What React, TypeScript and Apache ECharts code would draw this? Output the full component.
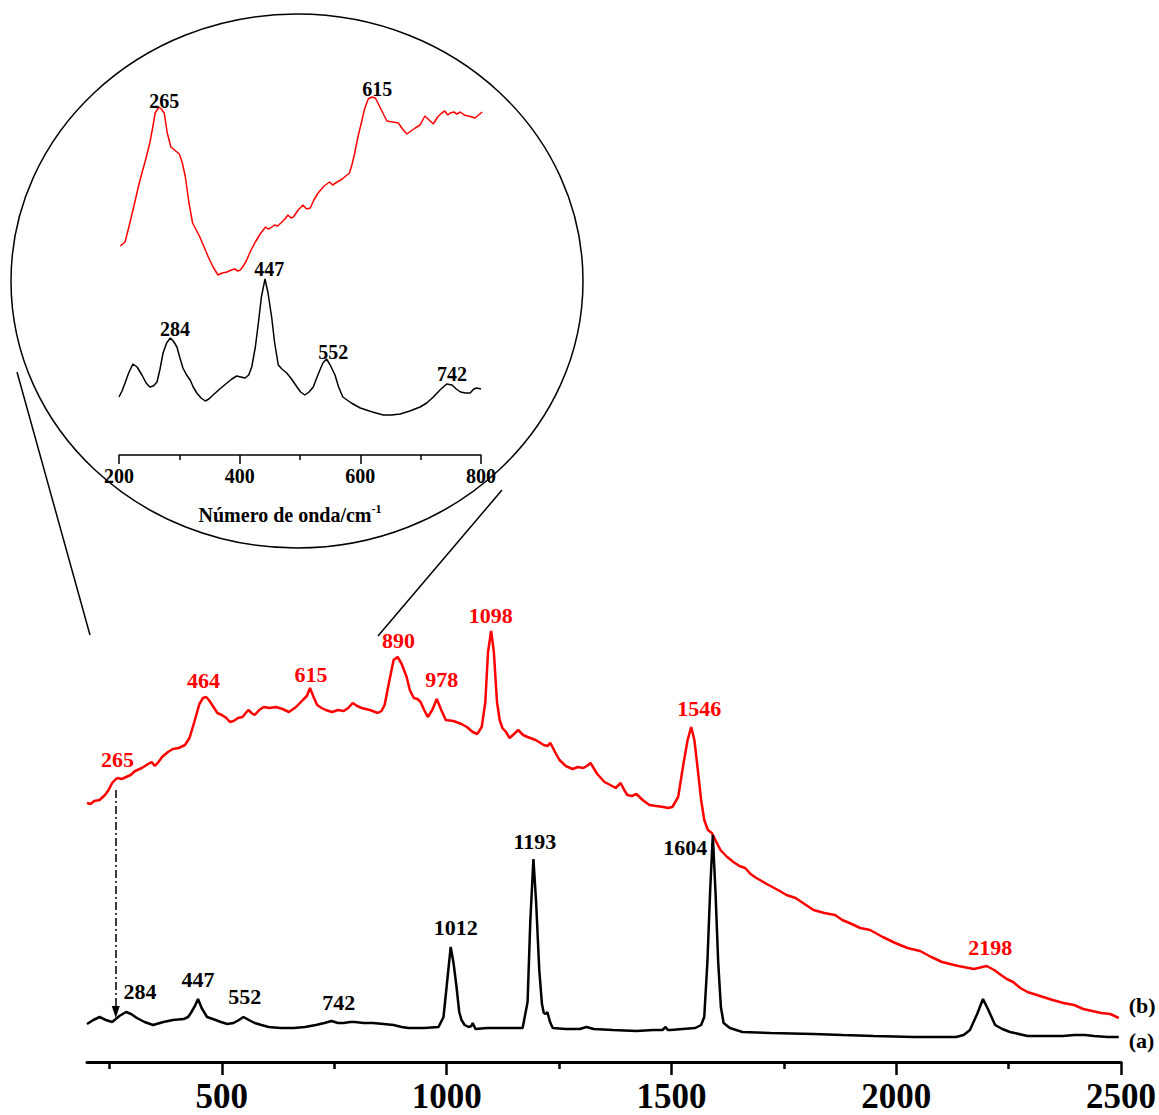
import React, { useEffect, useRef } from 'react';
import * as echarts from 'echarts';

const FONT = "'Liberation Serif', 'Times New Roman', serif";

// Main spectrum (b) - red: [wavenumber, intensity]
const redMain: [number, number][] = [
  [200, 259], [208, 258], [216, 261], [228, 262], [240, 267], [248, 272], [256, 279], [262, 282], [268, 284], [277, 283], [287, 285], [297, 287], [307, 291], [322, 294], [336, 298],
  [344, 300], [351, 296], [359, 300], [367, 305], [380, 310], [391, 313], [404, 314], [418, 317], [428, 324], [438, 339], [450, 358], [458, 364], [465, 365], [471, 362],
  [480, 356], [490, 349], [500, 347], [510, 344], [518, 340], [526, 341], [536, 344], [546, 345], [553, 349], [559, 352], [566, 349], [573, 347], [583, 352], [593, 355], [606, 354], [620, 355],
  [635, 353], [649, 350], [665, 355], [680, 362], [689, 366], [696, 374], [704, 365], [712, 357], [722, 354], [731, 352], [745, 350], [758, 352], [771, 351], [781, 354], [791, 359], [801, 356], [811, 354],
  [829, 352], [847, 349], [855, 351], [862, 357], [872, 380], [882, 402], [891, 405], [900, 398], [911, 385], [918, 372], [927, 364],
  [935, 363], [942, 360], [950, 352], [958, 345], [968, 352], [978, 363], [988, 352], [998, 342], [1015, 341], [1033, 338], [1045, 335], [1058, 330], [1068, 328],
  [1078, 335], [1086, 360], [1092, 410], [1099, 431], [1105, 410], [1112, 360], [1118, 342], [1124, 334],
  [1132, 330], [1140, 324], [1150, 328], [1159, 332], [1170, 327], [1180, 325], [1198, 322], [1216, 317], [1224, 316], [1231, 319], [1241, 310], [1251, 302], [1265, 296], [1280, 293],
  [1292, 295], [1304, 294], [1312, 296], [1320, 299], [1335, 288], [1351, 280], [1364, 277], [1376, 274], [1387, 279], [1395, 272], [1402, 267], [1412, 266], [1422, 268],
  [1436, 262], [1451, 257], [1466, 256], [1482, 255], [1492, 254], [1502, 255], [1515, 265], [1527, 299], [1536, 322], [1544, 335],
  [1551, 322], [1558, 295], [1566, 262], [1573, 242], [1581, 232], [1590, 229], [1600, 220], [1609, 212], [1624, 205], [1638, 200],
  [1651, 196], [1664, 194], [1676, 188], [1689, 184], [1712, 178], [1737, 172], [1756, 167], [1776, 164], [1796, 158], [1816, 152], [1840, 149], [1864, 147], [1880, 142], [1896, 139],
  [1920, 134], [1942, 132], [1970, 125], [1998, 119], [2025, 114], [2053, 111], [2078, 105], [2102, 100], [2138, 96], [2173, 93], [2201, 96], [2218, 92], [2233, 87],
  [2246, 83], [2260, 80], [2276, 74], [2292, 70], [2320, 66], [2348, 62], [2372, 59], [2396, 57], [2416, 53], [2436, 51], [2456, 49], [2476, 48], [2495, 44],
];

// Main spectrum (a) - black
const blackMain: [number, number][] = [
  [200, 38], [214, 42], [228, 45], [242, 42], [256, 40], [272, 46], [287, 50], [298, 48], [311, 44], [328, 40], [347, 37], [370, 40], [391, 42], [415, 43], [425, 45], [431, 49],
  [440, 56], [447, 63], [455, 54], [467, 45], [480, 43], [498, 40], [512, 38], [526, 39], [538, 42], [548, 45], [560, 42], [573, 39], [588, 37], [604, 35],
  [630, 34], [660, 34], [685, 35], [709, 37], [728, 39], [744, 41], [758, 39], [771, 39], [785, 40], [796, 40], [815, 39], [836, 39], [860, 38], [882, 37], [900, 35], [915, 34], [950, 34], [982, 35],
  [993, 45], [1001, 80], [1009, 115], [1015, 100], [1022, 75], [1028, 50], [1033, 42], [1040, 37], [1049, 35],
  [1055, 36], [1058, 39], [1061, 36], [1064, 33], [1090, 34], [1120, 34], [1145, 34], [1169, 34], [1180, 60], [1186, 140], [1193, 203], [1199, 160],
  [1206, 92], [1212, 58], [1216, 49], [1220, 48], [1224, 50], [1230, 40], [1236, 34], [1265, 33], [1296, 33], [1311, 35],
  [1327, 33], [1370, 32], [1422, 31], [1460, 32], [1480, 32], [1487, 35], [1492, 32], [1498, 32], [1525, 33], [1553, 34], [1566, 37], [1573, 45], [1580, 100],
  [1586, 170], [1592, 227], [1598, 170], [1604, 100], [1610, 55], [1616, 39], [1630, 34], [1658, 30], [1720, 29], [1816, 28],
  [1880, 27], [1950, 26], [2040, 25], [2133, 25], [2150, 27], [2164, 32], [2180, 48], [2193, 63], [2205, 52], [2220, 37], [2236, 33], [2253, 30],
  [2292, 26], [2330, 26], [2371, 26], [2396, 27], [2420, 27], [2440, 26], [2470, 25], [2495, 25],
];

// Inset spectra (200-800 cm-1)
const insetRed: [number, number][] = [
  [202, 209], [206, 211], [210, 213], [218, 232], [227, 255], [232, 268], [238, 282], [244, 295], [251, 312], [256, 328], [260, 342], [266, 348], [270, 346], [275, 342],
  [280, 322], [286, 308], [292, 305], [300, 301], [305, 292], [310, 278], [316, 252], [322, 232], [328, 225], [334, 218], [341, 208], [348, 198], [356, 188], [364, 180], [371, 182], [379, 183],
  [386, 185], [392, 186], [397, 184], [401, 185], [406, 189], [411, 194], [418, 204], [426, 213], [434, 221], [443, 228], [447, 226], [451, 227], [458, 230], [463, 229], [470, 233], [475, 236], [480, 240],
  [485, 237], [489, 238], [497, 245], [505, 250], [511, 246], [517, 247], [523, 255], [530, 262], [540, 269], [549, 273], [554, 270], [559, 272], [570, 276], [582, 282], [586, 290], [590, 300],
  [596, 318], [602, 333], [607, 346], [613, 356], [619, 358], [625, 357], [634, 346], [644, 334], [654, 333], [663, 332], [670, 326], [677, 321], [684, 324], [691, 327], [699, 330], [707, 339],
  [714, 335], [721, 331], [728, 338], [735, 342], [740, 344], [745, 340], [749, 342], [755, 343], [760, 341], [766, 343], [772, 340], [779, 339], [785, 338], [790, 337], [796, 340], [802, 343],
];

const insetBlack: [number, number][] = [
  [200, 58], [205, 64], [210, 72], [216, 82], [223, 91], [230, 88], [238, 80], [245, 72], [251, 68], [257, 69], [263, 73], [268, 86], [273, 102], [279, 112], [285, 117],
  [290, 114], [296, 108], [301, 97], [306, 87], [312, 80], [318, 75], [323, 68], [329, 62], [336, 57], [343, 54], [349, 56], [356, 60], [367, 66], [379, 72], [387, 76], [395, 79],
  [402, 78], [409, 77], [415, 80], [420, 88], [426, 108], [431, 132], [436, 158], [442, 176], [447, 162], [453, 138], [458, 112], [464, 90], [470, 86], [478, 82], [486, 76], [495, 68],
  [501, 63], [508, 60], [515, 63], [522, 68], [527, 76], [533, 85], [538, 92], [544, 96], [550, 90], [558, 80], [564, 68], [571, 58], [585, 52], [600, 47], [620, 43], [638, 40],
  [652, 40], [666, 41], [682, 44], [699, 48], [710, 52], [721, 58], [732, 65], [743, 71], [752, 70], [759, 66], [766, 63], [774, 62], [782, 62], [788, 66], [793, 67], [800, 66],
];

const mainTickLabels = [500, 1000, 1500, 2000, 2500];
const mainMinorTicks = [250, 750, 1250, 1750, 2250];

const redPeakText = ['265', '464', '615', '890', '978', '1098', '1546', '2198'];
const redPeakPos: [number, number][] = [
  [268, 303], [459, 382], [698, 388], [893, 422], [989, 383], [1098, 447], [1562, 354], [2209, 115],
];
const blackPeakText = ['284', '447', '552', '742', '1012', '1193', '1604'];
const blackPeakPos: [number, number][] = [
  [318, 71], [447, 83], [551, 66], [760, 60], [1020, 135], [1196, 221], [1531, 215],
];
const insetPeakText = ['265', '615', '284', '447', '552', '742'];
const insetPeakPos: [number, number][] = [
  [275, 354], [628, 366], [293, 126], [449, 186], [555, 103], [752, 81],
];

const arrowLine: [number, number][] = [[264, 272], [264, 50]];

function labelSeries(texts: string[], pos: [number, number][], color: string, size: number, xi: number, yi: number) {
  return {
    type: 'scatter',
    xAxisIndex: xi,
    yAxisIndex: yi,
    silent: true,
    clip: false,
    symbolSize: 1,
    itemStyle: { color: 'rgba(0,0,0,0)', opacity: 1 },
    data: texts.map((t, i) => ({ name: t, value: pos[i] })),
    label: {
      show: true,
      position: 'inside',
      formatter: '{b}',
      color,
      opacity: 1,
      textBorderWidth: 0,
      fontSize: size,
      fontWeight: 'bold',
      fontFamily: FONT,
    },
    z: 5,
  };
}

export default function App() {
  const ref = useRef<HTMLDivElement>(null);
  useEffect(() => {
    if (!ref.current) return;
    const chart = echarts.init(ref.current, undefined, { renderer: 'svg' });
    const option: any = {
      animation: false,
      backgroundColor: '#ffffff',
      grid: [
        { left: 87, right: 36, top: 562, bottom: 53, containLabel: false },
        { left: 119, right: 678, top: 55, bottom: 660, containLabel: false },
      ],
      xAxis: [
        {
          type: 'value', gridIndex: 0, min: 200, max: 2500, position: 'bottom',
          axisLine: { show: true, onZero: false, lineStyle: { color: '#000', width: 3 } },
          axisTick: { show: true, customValues: mainTickLabels, length: 13, inside: false, lineStyle: { color: '#000', width: 2.5 } },
          axisLabel: {
            show: true, customValues: mainTickLabels, margin: 17, color: '#000', fontSize: 35, fontWeight: 'bold', fontFamily: FONT,
            formatter: (v: number) => String(v),
          },
          splitLine: { show: false },
        },
        {
          type: 'value', gridIndex: 0, min: 200, max: 2500, position: 'bottom',
          axisLine: { show: false, onZero: false },
          axisTick: { show: true, customValues: mainMinorTicks, length: 7, lineStyle: { color: '#000', width: 2.5 } },
          axisLabel: { show: false },
          splitLine: { show: false },
        },
        {
          type: 'value', gridIndex: 1, min: 200, max: 800, interval: 200, position: 'bottom',
          axisLine: { show: true, onZero: false, lineStyle: { color: '#000', width: 1.5 } },
          axisTick: { show: true, length: 9, lineStyle: { color: '#000', width: 1.5 } },
          minorTick: { show: true, splitNumber: 2, length: 5, lineStyle: { color: '#000', width: 1.5 } },
          axisLabel: {
            show: true, margin: 11, color: '#000', fontSize: 20, fontWeight: 'bold', fontFamily: FONT,
            formatter: (v: number) => String(v),
          },
          splitLine: { show: false },
          name: '{a|Número de onda/cm}{s|-1}',
          nameLocation: 'middle',
          nameGap: 48,
          nameTextStyle: {
            color: '#000',
            padding: [0, 20, 0, 0],
            rich: {
              a: { fontSize: 20, fontWeight: 'bold', fontFamily: FONT, color: '#000' },
              s: { fontSize: 12, fontWeight: 'bold', fontFamily: FONT, color: '#000', padding: [0, 0, 12, 0] },
            },
          },
        },
      ],
      yAxis: [
        { type: 'value', gridIndex: 0, min: 0, max: 500, show: false },
        { type: 'value', gridIndex: 1, min: 0, max: 400, show: false },
      ],
      series: [
        {
          type: 'line', xAxisIndex: 0, yAxisIndex: 0, data: redMain, symbol: 'none', silent: true,
          lineStyle: { color: '#ff0000', width: 2.5 },
          endLabel: { show: true, formatter: '(b)', offset: [2, -13], color: '#000', fontSize: 22, fontWeight: 'bold', fontFamily: FONT },
        },
        {
          type: 'line', xAxisIndex: 0, yAxisIndex: 0, data: blackMain, symbol: 'none', silent: true,
          lineStyle: { color: '#000', width: 2.5 },
          endLabel: { show: true, formatter: '(a)', offset: [2, 3], color: '#000', fontSize: 22, fontWeight: 'bold', fontFamily: FONT },
          markLine: {
            silent: true,
            symbol: ['none', 'triangle'],
            symbolSize: [8, 12],
            label: { show: false },
            lineStyle: { color: '#000', width: 1.5, type: [8, 3, 2, 3] },
            data: [[{ coord: arrowLine[0] }, { coord: arrowLine[1] }]],
          },
        },
        {
          type: 'line', xAxisIndex: 2, yAxisIndex: 1, data: insetRed, symbol: 'none', silent: true,
          lineStyle: { color: '#ff0000', width: 1.5 },
        },
        {
          type: 'line', xAxisIndex: 2, yAxisIndex: 1, data: insetBlack, symbol: 'none', silent: true,
          lineStyle: { color: '#000', width: 1.5 },
        },
        labelSeries(redPeakText, redPeakPos, '#ff0000', 22, 0, 0),
        labelSeries(blackPeakText, blackPeakPos, '#000000', 22, 0, 0),
        labelSeries(insetPeakText, insetPeakPos, '#000000', 20, 2, 1),
      ],
      graphic: [
        { type: 'ellipse', silent: true, shape: { cx: 297, cy: 281, rx: 286, ry: 267 }, style: { fill: 'none', stroke: '#000', lineWidth: 1.5 } },
        { type: 'line', silent: true, shape: { x1: 17, y1: 372, x2: 90, y2: 635 }, style: { stroke: '#000', lineWidth: 1.5 } },
        { type: 'line', silent: true, shape: { x1: 502, y1: 490, x2: 378, y2: 636 }, style: { stroke: '#000', lineWidth: 1.5 } },
      ],
    };
    chart.setOption(option);
    return () => chart.dispose();
  }, []);
  return <div ref={ref} style={{ position: 'fixed', left: 0, top: 0, width: 1159, height: 1115, background: '#fff' }} />;
}
